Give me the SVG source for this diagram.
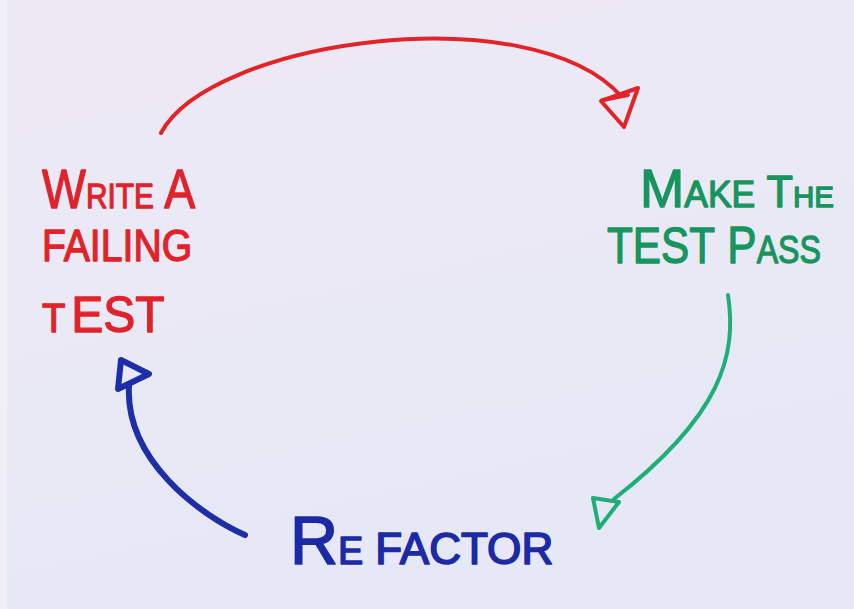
<svg xmlns="http://www.w3.org/2000/svg" width="854" height="609" viewBox="0 0 854 609">
  <defs>
    <linearGradient id="paper" x1="0" y1="0" x2="0.3" y2="1">
      <stop offset="0" stop-color="#ede9f5"/>
      <stop offset="0.5" stop-color="#eae9f5"/>
      <stop offset="1" stop-color="#e6e8f6"/>
    </linearGradient>
    <style>
      .ink { font-family: "Liberation Sans", "DejaVu Sans", sans-serif; stroke-linejoin: round; stroke-linecap: round; }
      .red { fill: #e0232b; stroke: #e0232b; stroke-width: 1.3; }
      .green { fill: #17955f; stroke: #17955f; stroke-width: 1.3; }
      .blue { fill: #1c2aa6; stroke: #1c2aa6; stroke-width: 1.7; }
      .line { fill: none; stroke-linecap: round; stroke-linejoin: round; }
      .l-red { stroke: #e22429; stroke-width: 4; }
      .l-green { stroke: #1fae78; stroke-width: 4; }
      .l-blue { stroke: #1e2ea8; stroke-width: 6; }
    </style>
  </defs>

  <!-- paper -->
  <rect x="0" y="0" width="854" height="609" fill="url(#paper)"/>
  <rect x="0" y="0" width="7" height="609" fill="#f1f0f9"/>

  <!-- cycle arrows -->
  <g id="connectors">
    <path class="line l-red" d="M161,133 C210,40 530,-5 621,96"/>
    <polygon class="line l-red" points="601,101 638,88 624,127"/>
    <path class="line l-red" d="M603,100 L628,95"/>

    <path class="line l-green" d="M728,295 C737,355 722,415 614,499"/>
    <polygon class="line l-green" points="593,498 619,502 599,528"/>

    <path class="line l-blue" d="M245,535 C200,515 125,460 129,386"/>
    <polygon class="line l-blue" points="121,360 149,374 118,389"/>
  </g>

  <!-- hand-lettered labels: capitals larger, narrowed with a horizontal scale -->
  <g id="write-failing-test" class="ink red">
    <text transform="translate(42,208) scale(0.83,1)"><tspan font-size="56">W</tspan><tspan font-size="36">RITE</tspan><tspan font-size="56"> A</tspan></text>
    <text transform="translate(42,261) scale(0.89,1)" font-size="44">FAILING</text>
    <text transform="translate(42,332) scale(0.96,1)"><tspan font-size="40">T</tspan><tspan font-size="50" dx="6">EST</tspan></text>
  </g>

  <g id="make-the-test-pass" class="ink green">
    <text transform="translate(640,207) scale(0.985,1)"><tspan font-size="54">M</tspan><tspan font-size="36">AKE</tspan><tspan font-size="44"> T</tspan><tspan font-size="30">HE</tspan></text>
    <text transform="translate(607,263) scale(0.846,1)"><tspan font-size="50">TEST</tspan><tspan font-size="52"> P</tspan><tspan font-size="38">ASS</tspan></text>
  </g>

  <g id="refactor" class="ink blue">
    <text transform="translate(290,564) scale(0.98,1)"><tspan font-size="68">R</tspan><tspan font-size="38">E</tspan><tspan font-size="45"> FACTOR</tspan></text>
  </g>
</svg>
